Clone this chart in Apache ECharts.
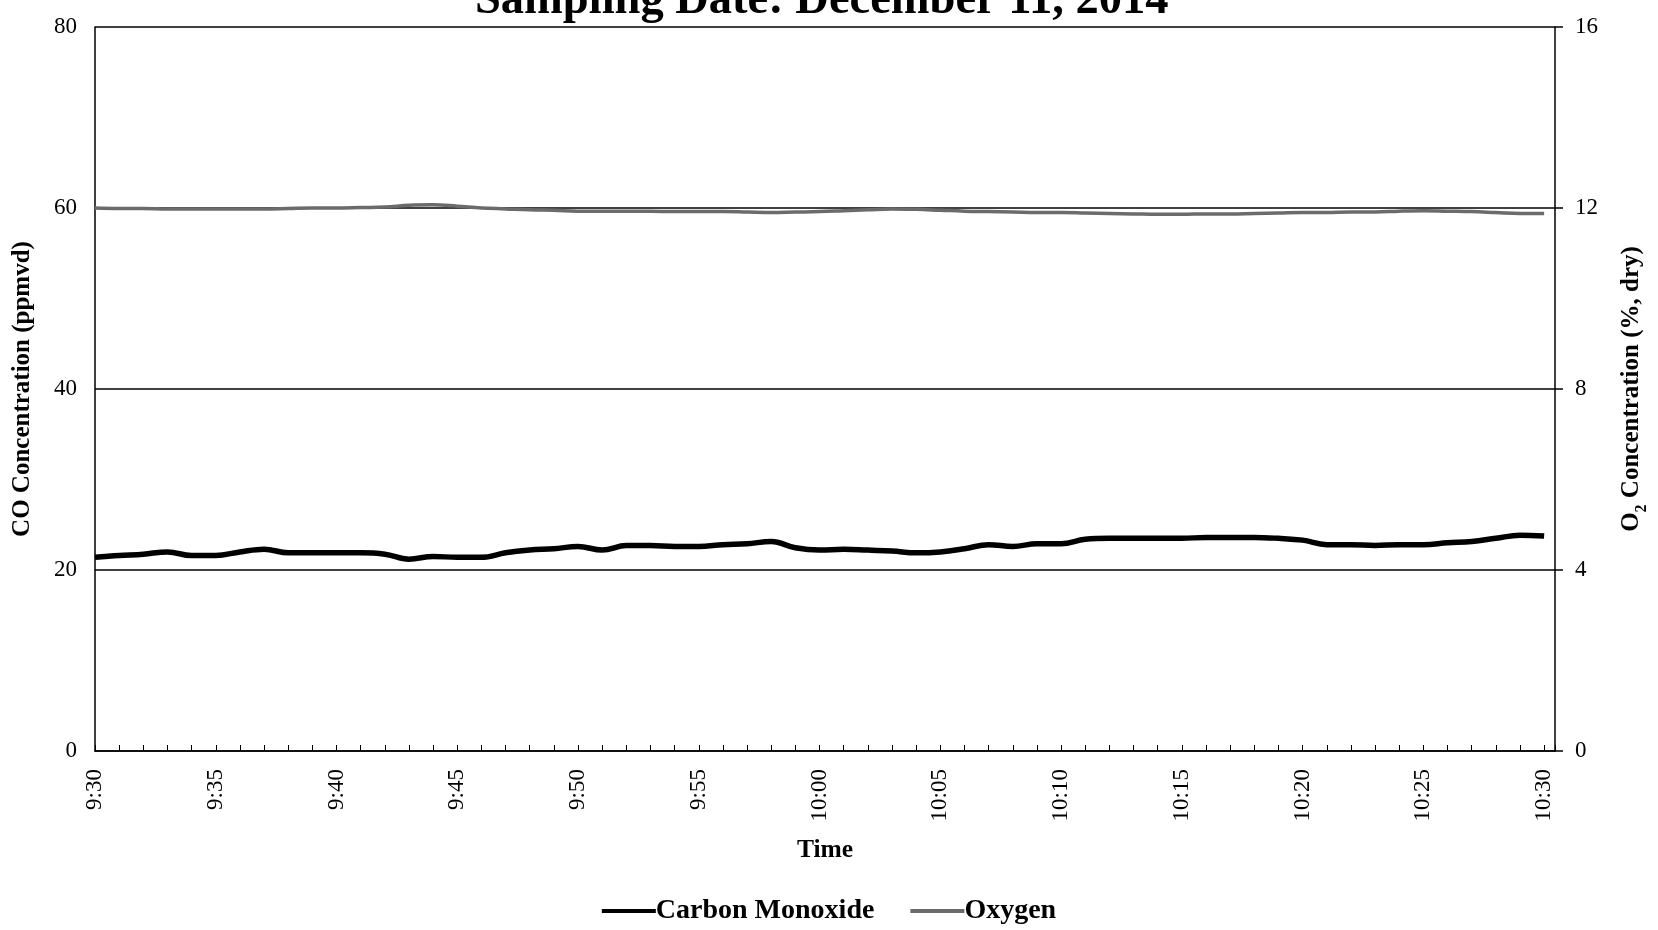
<!DOCTYPE html>
<html>
<head>
<meta charset="utf-8">
<script src="https://cdn.jsdelivr.net/npm/echarts@6/dist/echarts.min.js"></script>
<style>
html,body{margin:0;padding:0;background:#fff;}
#chart{width:1658px;height:930px;}
</style>
</head>
<body>
<div id="chart"></div>
<script>
const titleText = 'Sampling Date: December 11, 2014';
const times = ['9:30','9:31','9:32','9:33','9:34','9:35','9:36','9:37','9:38','9:39',
  '9:40','9:41','9:42','9:43','9:44','9:45','9:46','9:47','9:48','9:49',
  '9:50','9:51','9:52','9:53','9:54','9:55','9:56','9:57','9:58','9:59',
  '10:00','10:01','10:02','10:03','10:04','10:05','10:06','10:07','10:08','10:09',
  '10:10','10:11','10:12','10:13','10:14','10:15','10:16','10:17','10:18','10:19',
  '10:20','10:21','10:22','10:23','10:24','10:25','10:26','10:27','10:28','10:29','10:30'];
const coValues = [21.4,21.6,21.75,22.0,21.6,21.6,22.0,22.3,21.9,21.9,
  21.9,21.9,21.75,21.2,21.5,21.4,21.4,21.9,22.2,22.35,
  22.6,22.2,22.7,22.7,22.6,22.6,22.8,22.9,23.15,22.45,
  22.2,22.3,22.2,22.1,21.9,22.0,22.35,22.8,22.6,22.9,
  22.9,23.4,23.5,23.5,23.5,23.5,23.6,23.6,23.6,23.5,
  23.3,22.8,22.8,22.7,22.8,22.8,23.0,23.15,23.5,23.85,23.75];
const o2Values = [12.0,11.99,11.99,11.98,11.98,11.98,11.98,11.98,11.99,12.0,
  12.0,12.01,12.02,12.06,12.07,12.04,12.0,11.98,11.96,11.95,
  11.93,11.93,11.93,11.93,11.92,11.92,11.92,11.91,11.9,11.91,
  11.92,11.94,11.96,11.98,11.97,11.95,11.93,11.92,11.91,11.9,
  11.9,11.89,11.88,11.87,11.86,11.86,11.87,11.87,11.88,11.89,
  11.9,11.9,11.91,11.91,11.93,11.94,11.93,11.92,11.9,11.88,11.88];
const seriesNames = ['Carbon Monoxide','Oxygen'];
const leftAxisName = 'CO Concentration (ppmvd)';
const xAxisName = 'Time';

function toMinutes(t){
  const p = t.split(':');
  return (parseInt(p[0],10)*60 + parseInt(p[1],10)) - (9*60+30);
}
const coData = times.map((t,i)=>[toMinutes(t), coValues[i]]);
const o2Data = times.map((t,i)=>[toMinutes(t), o2Values[i]]);

const FONT = '"Liberation Serif","Times New Roman",serif';
const chart = echarts.init(document.getElementById('chart'));
chart.setOption({
  backgroundColor:'#fff',
  animation:false,
  title:{
    text:titleText, left:470, top:-28,
    textStyle:{fontFamily:FONT, fontWeight:'bold', fontSize:46.5, color:'#000'}
  },
  legend:{
    data:seriesNames, bottom:0, left:'center', itemGap:36,
    itemWidth:54, itemHeight:4,
    icon:'rect',
    textStyle:{fontFamily:FONT, fontWeight:'bold', fontSize:28, color:'#000', padding:[0,0,0,-5]}
  },
  grid:{left:95, right:101, top:27, bottom:179, show:false},
  xAxis:{
    type:'value', min:0, max:60.45, interval:1,
    name:xAxisName, nameLocation:'middle', nameGap:86,
    nameTextStyle:{fontFamily:FONT, fontWeight:'bold', fontSize:25.5, color:'#000'},
    axisLine:{show:true, lineStyle:{color:'#000', width:1.5}},
    axisTick:{show:true, inside:true, length:6, lineStyle:{color:'#000', width:1}},
    splitLine:{show:false},
    axisLabel:{
      rotate:90, margin:18, fontFamily:FONT, fontSize:23, color:'#000',
      formatter:function(v){
        if (Math.abs(v-Math.round(v))>1e-6) return '';
        const m = Math.round(v);
        return (m % 5 === 0 && times[m]) ? times[m] : '';
      }
    }
  },
  yAxis:[{
    type:'value', min:0, max:80, interval:20, position:'left',
    name:leftAxisName, nameLocation:'middle', nameGap:60, nameRotate:90,
    nameTextStyle:{fontFamily:FONT, fontWeight:'bold', fontSize:25, color:'#000'},
    axisLine:{show:true, lineStyle:{color:'#000', width:1.5}},
    axisTick:{show:false},
    axisLabel:{margin:18, fontFamily:FONT, fontSize:23, color:'#000'},
    splitLine:{show:true, lineStyle:{color:'#000', width:1.5}}
  },{
    type:'value', min:0, max:16, interval:4, position:'right',
    name:'{b|O}{s|2}{b| Concentration (%, dry)}', nameLocation:'middle', nameGap:64, nameRotate:90,
    nameTextStyle:{
      fontFamily:FONT, fontWeight:'bold', fontSize:25, color:'#000',
      rich:{
        b:{fontFamily:FONT, fontWeight:'bold', fontSize:25, color:'#000', verticalAlign:'bottom'},
        s:{fontFamily:FONT, fontWeight:'bold', fontSize:16, color:'#000', verticalAlign:'bottom', padding:[0,0,-6,0]}
      }
    },
    axisLine:{show:true, lineStyle:{color:'#000', width:1.5}},
    axisTick:{show:true, inside:false, length:8, lineStyle:{color:'#000', width:1.5}},
    axisLabel:{margin:20, fontFamily:FONT, fontSize:23, color:'#000'},
    splitLine:{show:false}
  }],
  series:[{
    name:seriesNames[0], type:'line', yAxisIndex:0, data:coData,
    smooth:0.4, showSymbol:false, symbol:'none',
    lineStyle:{color:'#000', width:5.5},
    itemStyle:{color:'#000'}
  },{
    name:seriesNames[1], type:'line', yAxisIndex:1, data:o2Data,
    smooth:0.4, showSymbol:false, symbol:'none',
    lineStyle:{color:'#6b6b6b', width:3.5},
    itemStyle:{color:'#6b6b6b'}
  }]
});
</script>
</body>
</html>
